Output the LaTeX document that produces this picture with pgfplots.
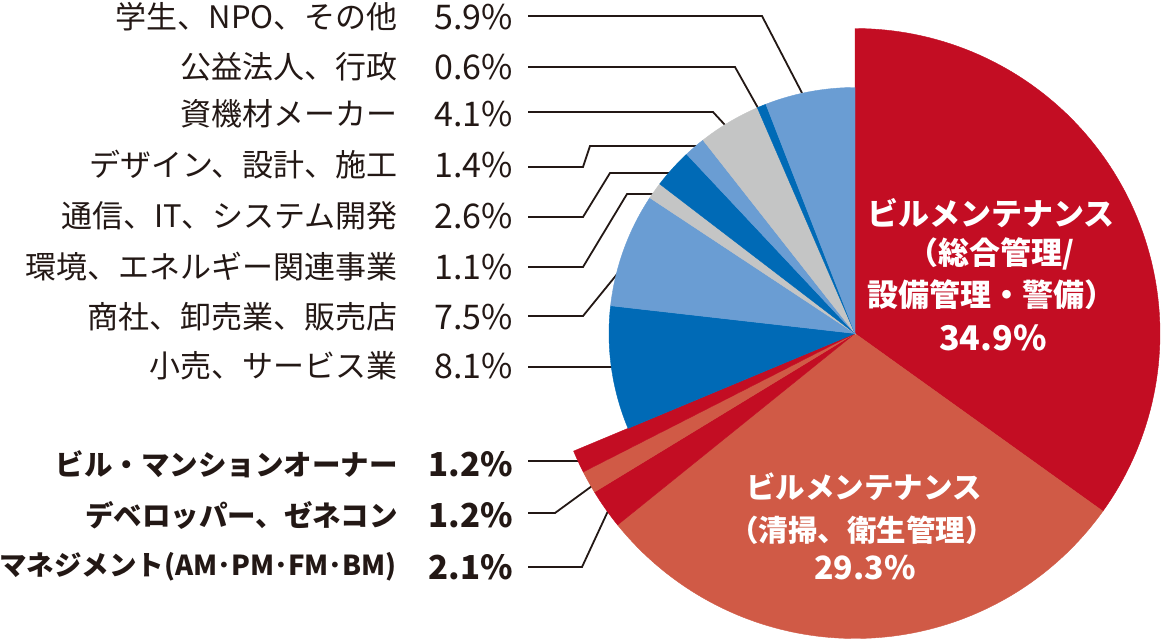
\documentclass[border=0pt]{standalone}
\usepackage{fontspec}
\setmainfont{Noto Sans CJK JP}
\usepackage{pgfplots}
\pgfplotsset{compat=1.18}
\definecolor{cred}{HTML}{C30D23}
\definecolor{ccoral}{HTML}{D05A46}
\definecolor{cblue}{HTML}{006AB6}
\definecolor{clblue}{HTML}{6A9DD3}
\definecolor{cgray}{HTML}{C4C5C5}
\definecolor{ink}{HTML}{231815}
% #1 colour, #2 radius, #3 cumulative % before slice, #4 cumulative % after slice
\newcommand\slice[4]{%
  \addplot[fill=#1, draw=#1, line width=0.4pt, domain={90-3.6*(#4)}:{90-3.6*(#3)},
    samples=90, variable=\t, no markers]
    ({855+#2*cos(\t)},{307.5+#2*sin(\t)}) -- (axis cs:855,307.5) -- cycle;}
\newcommand\lab{\fontsize{31}{36}\selectfont}
\newcommand\pct{\fontsize{34}{38}\selectfont}
\newcommand\blab{\fontsize{28.5}{34}\selectfont\bfseries}
\newcommand\bpct{\fontsize{33}{38}\selectfont\bfseries}
\begin{document}
\begin{tikzpicture}
\begin{axis}[name=ax, width=1161pt, height=641pt, scale only axis,
  xmin=0, xmax=1161, ymin=0, ymax=641, hide axis, clip=false]
% leader lines
\addplot[ink, line width=1.8pt, no markers] coordinates {(528,625) (762,625) (802,548)};
\addplot[ink, line width=1.8pt, no markers] coordinates {(528,574) (735,574) (758,533)};
\addplot[ink, line width=1.8pt, no markers] coordinates {(528,529) (713,529) (725,516)};
\addplot[ink, line width=1.8pt, no markers] coordinates {(528,474) (583,474) (590,495) (700,495)};
\addplot[ink, line width=1.8pt, no markers] coordinates {(528,424) (583,424) (610,468) (670,468)};
\addplot[ink, line width=1.8pt, no markers] coordinates {(528,374) (583,374) (627,447) (655,447)};
\addplot[ink, line width=1.8pt, no markers] coordinates {(528,325) (583,325) (618,368)};
\addplot[ink, line width=1.8pt, no markers] coordinates {(528,274) (612,274)};
\addplot[ink, line width=1.8pt, no markers] coordinates {(528,180) (580,180)};
\addplot[ink, line width=1.8pt, no markers] coordinates {(528,128) (555,128) (592,155)};
\addplot[ink, line width=1.8pt, no markers] coordinates {(528,74) (582,74) (608,130)};
% pie slices (percent shares, clockwise from 12 o'clock)
\slice{cred}{305}{0}{34.9}
\slice{ccoral}{305}{34.9}{34.9+29.3}
\slice{cred}{305}{64.2}{64.2+2.1}
\slice{ccoral}{305}{66.3}{66.3+1.2}
\slice{cred}{305}{67.5}{67.5+1.2}
\slice{cblue}{246}{68.7}{68.7+8.1}
\slice{clblue}{246}{76.8}{76.8+7.5}
\slice{cgray}{246}{84.3}{84.3+1.1}
\slice{cblue}{246}{85.4}{85.4+2.6}
\slice{clblue}{246}{88.0}{88.0+1.4}
\slice{cgray}{246}{89.4}{89.4+4.1}
\slice{cblue}{246}{93.5}{93.5+0.6}
\slice{clblue}{246}{94.1}{94.1+5.9}
% labels
\begin{scope}[every node/.style={inner sep=0pt, text=ink, anchor=east}]
\node[font=\lab] at (axis cs:398,624) {学生、NPO、その他};
\node[font=\pct] at (axis cs:513,624) {5.9\%};
\node[font=\lab] at (axis cs:398,574) {公益法人、行政};
\node[font=\pct] at (axis cs:513,574) {0.6\%};
\node[font=\lab] at (axis cs:398,527) {資機材メーカー};
\node[font=\pct] at (axis cs:513,527) {4.1\%};
\node[font=\lab] at (axis cs:398,476) {デザイン、設計、施工};
\node[font=\pct] at (axis cs:513,476) {1.4\%};
\node[font=\lab] at (axis cs:398,425) {通信、IT、システム開発};
\node[font=\pct] at (axis cs:513,425) {2.6\%};
\node[font=\lab] at (axis cs:398,374) {環境、エネルギー関連事業};
\node[font=\pct] at (axis cs:513,374) {1.1\%};
\node[font=\lab] at (axis cs:398,324) {商社、卸売業、販売店};
\node[font=\pct] at (axis cs:513,324) {7.5\%};
\node[font=\lab] at (axis cs:398,275) {小売、サービス業};
\node[font=\pct] at (axis cs:513,275) {8.1\%};
\node[font=\blab] at (axis cs:398,177) {ビル・マンションオーナー};
\node[font=\bpct] at (axis cs:513,177) {1.2\%};
\node[font=\blab] at (axis cs:398,126) {デベロッパー、ゼネコン};
\node[font=\bpct] at (axis cs:513,126) {1.2\%};
\node[font=\fontsize{27.5}{34}\selectfont\bfseries] at (axis cs:397,74) {マネジメント(AM･PM･FM･BM)};
\node[font=\bpct] at (axis cs:513,74) {2.1\%};
\end{scope}
% in-slice labels
\begin{scope}[every node/.style={inner sep=0pt, text=white, anchor=center}]
\node[font=\fontsize{31}{36}\selectfont\bfseries] at (axis cs:991,428) {ビルメンテナンス};
\node[font=\fontsize{31}{36}\selectfont\bfseries] at (axis cs:991,387) {（総合管理/};
\node[font=\fontsize{31}{36}\selectfont\bfseries] at (axis cs:991,346) {設備管理・警備）};
\node[font=\fontsize{34}{38}\selectfont\bfseries] at (axis cs:993,303) {34.9\%};
\node[font=\fontsize{29.5}{34}\selectfont\bfseries] at (axis cs:864,154) {ビルメンテナンス};
\node[font=\fontsize{29.5}{34}\selectfont\bfseries] at (axis cs:862,111) {（清掃、衛生管理）};
\node[font=\fontsize{32}{36}\selectfont\bfseries] at (axis cs:865,73) {29.3\%};
\end{scope}
\end{axis}
\pgfresetboundingbox
\path[use as bounding box] (ax.south west) rectangle (ax.north east);
\end{tikzpicture}
\end{document}
